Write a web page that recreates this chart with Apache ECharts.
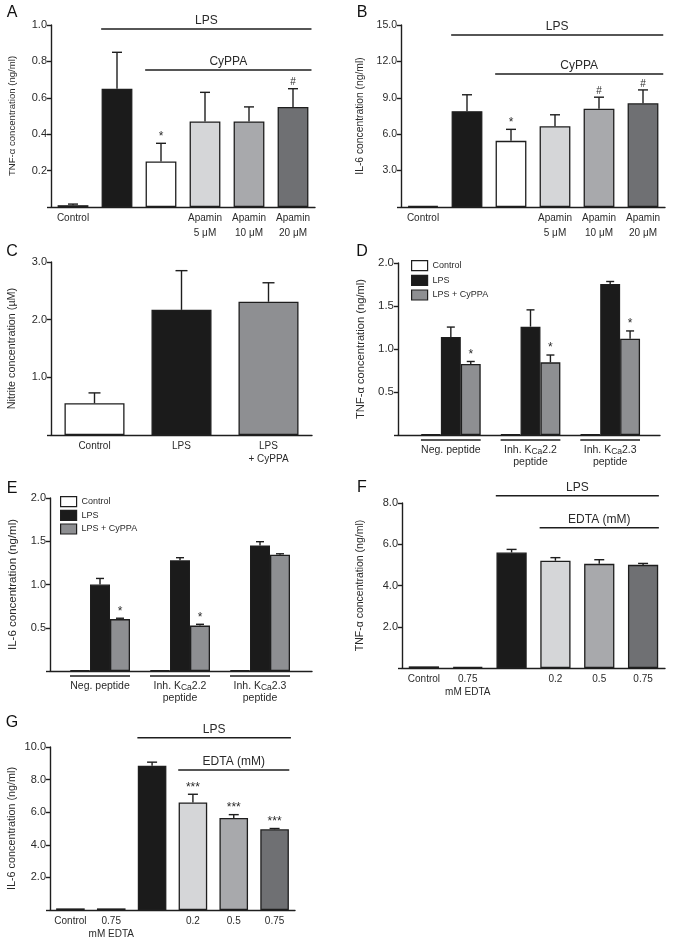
<!DOCTYPE html>
<html><head><meta charset="utf-8">
<script src="https://cdn.jsdelivr.net/npm/echarts@6/dist/echarts.min.js"></script>
<style>html,body{margin:0;padding:0;background:#fff}#c{width:675px;height:941px}</style>
</head><body><div id="c"></div><script>
// ---------------- DATA ----------------
// Panel A: TNF-α (ng/ml)
const aCategories = ['Control', '', '', 'Apamin\n5 μM', 'Apamin\n10 μM', 'Apamin\n20 μM'];
const aValues = [0.01, 0.65, 0.25, 0.47, 0.47, 0.55];
const aSem = [0.006, 0.20, 0.10, 0.16, 0.08, 0.10];
const aMarks = ['', '', '*', '', '', '#'];
const aTicks = [0.2, 0.4, 0.6, 0.8, 1.0];
// Panel B: IL-6 (ng/ml)
const bCategories = ['Control', '', '', 'Apamin\n5 μM', 'Apamin\n10 μM', 'Apamin\n20 μM'];
const bValues = [0.08, 7.9, 5.45, 6.65, 8.1, 8.55];
const bSem = [0.03, 1.35, 0.95, 0.95, 0.95, 1.1];
const bMarks = ['', '', '*', '', '#', '#'];
const bTicks = [3, 6, 9, 12, 15];
// Panel C: Nitrite (µM)
const cCategories = ['Control', 'LPS', 'LPS\n+ CyPPA'];
const cValues = [0.55, 2.17, 2.31];
const cSem = [0.18, 0.68, 0.33];
const cTicks = [1, 2, 3];
// Panels D, E: grouped by peptide
const peptideGroups = ['Neg. peptide', 'Inh. KCa2.2\npeptide', 'Inh. KCa2.3\npeptide'];
const groupSeriesNames = ['Control', 'LPS', 'LPS + CyPPA'];
const dControl = [0.006, 0.006, 0.006];
const dLps = [1.14, 1.26, 1.755];
const dLpsSem = [0.115, 0.195, 0.03];
const dCyppa = [0.825, 0.845, 1.12];
const dCyppaSem = [0.03, 0.085, 0.09];
const dCyppaMarks = ['*', '*', '*'];
const dTicks = [0.5, 1.0, 1.5, 2.0];
const eControl = [0.006, 0.006, 0.006];
const eLps = [1.0, 1.28, 1.45];
const eLpsSem = [0.07, 0.03, 0.045];
const eCyppa = [0.6, 0.525, 1.345];
const eCyppaSem = [0.01, 0.015, 0.01];
const eCyppaMarks = ['*', '*', ''];
const eTicks = [0.5, 1.0, 1.5, 2.0];
// Panels F, G: EDTA
const edtaCategories = ['Control', '0.75\nmM EDTA', '', '0.2', '0.5', '0.75'];
const fValues = [0.08, 0.05, 5.6, 5.2, 5.05, 5.0];
const fSem = [0, 0, 0.15, 0.15, 0.2, 0.07];
const fTicks = [2, 4, 6, 8];
const gValues = [0.1, 0.1, 8.85, 6.6, 5.65, 4.95];
const gSem = [0, 0, 0.22, 0.5, 0.2, 0.05];
const gMarks = ['', '', '', '***', '***', '***'];
const gTicks = [2, 4, 6, 8, 10];

// ---------------- STYLE ----------------
const FONT = '"Liberation Sans", Arial, Helvetica, sans-serif';
const INK = '#1e1e1e';
const TXT = '#2a2a2a';
const C_WHITE = '#ffffff', C_BLACK = '#1b1b1b', C_LIGHT = '#d5d6d8', C_MID = '#a8a9ac', C_DARK = '#6f7073', C_CY = '#8e8f92';
const apaminFills = [C_WHITE, C_BLACK, C_WHITE, C_LIGHT, C_MID, C_DARK];
const edtaFills = [C_WHITE, C_WHITE, C_BLACK, C_LIGHT, C_MID, C_DARK];
const nitriteFills = [C_WHITE, C_BLACK, C_CY];
const groupFills = [C_WHITE, C_BLACK, C_CY];

const grids = [
  {left: 51, top: 25, width: 264, height: 182},   // 0 A
  {left: 401, top: 25, width: 264, height: 182},  // 1 B
  {left: 51, top: 262, width: 261, height: 173},  // 2 C
  {left: 398, top: 263, width: 262, height: 172}, // 3 D axis
  {left: 411, top: 263, width: 239, height: 172}, // 4 D bars
  {left: 50, top: 498, width: 262, height: 173},  // 5 E axis
  {left: 60, top: 498, width: 240, height: 173},  // 6 E bars
  {left: 402, top: 503, width: 263, height: 165}, // 7 F
  {left: 50, top: 747, width: 245, height: 165}   // 8 G
];

function yAx(gi, ticks, name, gap, nameSize, labelSize, show) {
  const step = ticks[1] - ticks[0];
  return {type: 'value', gridIndex: gi, min: 0, max: ticks[ticks.length - 1], interval: step,
    show: show !== false,
    name: name, nameLocation: 'middle', nameGap: gap,
    nameTextStyle: {fontSize: nameSize, color: TXT, fontFamily: FONT},
    axisLine: {show: true, lineStyle: {color: INK, width: 1.4}},
    axisTick: {show: true, length: 4, lineStyle: {color: INK, width: 1.4}},
    axisLabel: {fontSize: labelSize, color: TXT, margin: 4, fontFamily: FONT,
      formatter: v => (v === 0 ? '' : v.toFixed(1))},
    splitLine: {show: false}};
}
function xAx(gi, cats, extra) {
  return Object.assign({type: 'category', gridIndex: gi, data: cats,
    axisLine: {show: true, lineStyle: {color: INK, width: 1.4}},
    axisTick: {show: false},
    axisLabel: {interval: 0, fontSize: 10, color: TXT, margin: 5, lineHeight: 13, fontFamily: FONT}}, extra || {});
}
function barSeries(name, gi, vals, fills, gap, extra) {
  return Object.assign({type: 'bar', name: name, xAxisIndex: gi, yAxisIndex: gi,
    data: vals.map((v, i) => ({value: v, itemStyle: {color: Array.isArray(fills) ? fills[i] : fills}})),
    barCategoryGap: gap, barGap: '0%',
    itemStyle: {color: Array.isArray(fills) ? fills[0] : fills, borderColor: INK, borderWidth: 1.3},
    z: 2, silent: true, animation: false}, extra || {});
}
function errorSeries(gi, vals, sems, marks, nSeries, k, catGap, capHalf) {
  return {type: 'custom', xAxisIndex: gi, yAxisIndex: gi, clip: false, z: 5, silent: true, animation: false,
    encode: {x: 0, y: [1, 2]},
    data: vals.map((v, i) => [i, v, v + sems[i]]),
    renderItem(params, api) {
      const i = params.dataIndex;
      const bw = api.size([1, 0])[0];
      const barW = bw * (1 - catGap) / nSeries;
      const off = (k - (nSeries - 1) / 2) * barW;
      const p0 = api.coord([api.value(0), api.value(1)]);
      const p1 = api.coord([api.value(0), api.value(2)]);
      const x = p0[0] + off;
      const ch = [];
      if (p0[1] - p1[1] > 0.6) {
        ch.push({type: 'line', shape: {x1: x, y1: p0[1], x2: x, y2: p1[1]}, style: {stroke: INK, lineWidth: 1.4}});
        ch.push({type: 'line', shape: {x1: x - capHalf, y1: p1[1], x2: x + capHalf, y2: p1[1]}, style: {stroke: INK, lineWidth: 1.4}});
      }
      const m = marks ? marks[i] : '';
      if (m) ch.push({type: 'text', x: x, y: p1[1] - 1, style: {text: m, fill: TXT, fontSize: m === '#' ? 10 : 12,
        fontFamily: FONT, align: 'center', verticalAlign: 'bottom'}});
      return {type: 'group', children: ch};
    }};
}
function bracketSeries(gi, items) {
  return {type: 'custom', xAxisIndex: gi, yAxisIndex: gi, clip: false, z: 5, silent: true, animation: false,
    encode: {x: [0, 1], y: 2},
    data: items.map(it => [it[0], it[1], it[2]]),
    renderItem(params, api) {
      const it = items[params.dataIndex];
      const bw = api.size([1, 0])[0];
      const a = api.coord([it[0], it[2]]), b = api.coord([it[1], it[2]]);
      const x1 = a[0] - bw * it[4], x2 = b[0] + bw * it[5];
      return {type: 'group', children: [
        {type: 'line', shape: {x1: x1, y1: a[1], x2: x2, y2: a[1]}, style: {stroke: INK, lineWidth: 1.5}},
        {type: 'text', x: (x1 + x2) / 2, y: a[1] - 8, style: {text: it[3], fontSize: 12, fill: TXT, fontFamily: FONT,
          align: 'center', verticalAlign: 'middle'}}
      ]};
    }};
}
function underlineSeries(gi, n, frac) {
  return {type: 'custom', xAxisIndex: gi, yAxisIndex: gi, clip: false, z: 5, silent: true, animation: false,
    encode: {x: 0, y: 1},
    data: Array.from({length: n}, (_, i) => [i, 0]),
    renderItem(params, api) {
      const bw = api.size([1, 0])[0];
      const p = api.coord([api.value(0), 0]);
      return {type: 'line', shape: {x1: p[0] - bw * frac / 2, y1: p[1] + 5, x2: p[0] + bw * frac / 2, y2: p[1] + 5},
        style: {stroke: INK, lineWidth: 1.3}};
    }};
}
const peptideAxisLabel = {interval: 0, margin: 9, fontSize: 10.5, lineHeight: 12, color: TXT, fontFamily: FONT,
  formatter: v => v.replace('KCa', 'K{s|Ca}'),
  rich: {s: {fontSize: 8.5, lineHeight: 9, verticalAlign: 'bottom', color: TXT, fontFamily: FONT}}};

const TNF = 'TNF-α concentration (ng/ml)';
const IL6 = 'IL-6 concentration (ng/ml)';

const xAxes = [
  xAx(0, aCategories, {axisLabel: {interval: 0, fontSize: 10, color: TXT, margin: 4, lineHeight: 15, fontFamily: FONT}}),
  xAx(1, bCategories, {axisLabel: {interval: 0, fontSize: 10, color: TXT, margin: 4, lineHeight: 15, fontFamily: FONT}}),
  xAx(2, cCategories),
  xAx(3, [''], {axisLabel: {show: false}}),
  xAx(4, peptideGroups, {axisLine: {show: false}, axisLabel: peptideAxisLabel}),
  xAx(5, [''], {axisLabel: {show: false}}),
  xAx(6, peptideGroups, {axisLine: {show: false}, axisLabel: peptideAxisLabel}),
  xAx(7, edtaCategories),
  xAx(8, edtaCategories)
];
const yAxes = [
  yAx(0, aTicks, TNF, 34, 9.6, 11),
  yAx(1, bTicks, IL6, 36, 10.3, 10.5),
  yAx(2, cTicks, 'Nitrite concentration (µM)', 33, 10.8, 11),
  yAx(3, dTicks, TNF, 32, 11.2, 11.5),
  yAx(4, dTicks, '', 0, 10, 10, false),
  yAx(5, eTicks, IL6, 31, 11.5, 11),
  yAx(6, eTicks, '', 0, 10, 10, false),
  yAx(7, fTicks, TNF, 36, 10.5, 11),
  yAx(8, gTicks, IL6, 32, 10.8, 11)
];

const series = [
  // A
  barSeries('A', 0, aValues, apaminFills, '30%'),
  errorSeries(0, aValues, aSem, aMarks, 1, 0, 0.30, 5),
  bracketSeries(0, [[1, 5, 0.978, 'LPS', 0.36, 0.42], [2, 5, 0.753, 'CyPPA', 0.36, 0.42]]),
  // B
  barSeries('B', 1, bValues, apaminFills, '30%'),
  errorSeries(1, bValues, bSem, bMarks, 1, 0, 0.30, 5),
  bracketSeries(1, [[1, 5, 14.18, 'LPS', 0.36, 0.46], [2, 5, 10.96, 'CyPPA', 0.36, 0.46]]),
  // C
  barSeries('C', 2, cValues, nitriteFills, '31%'),
  errorSeries(2, cValues, cSem, null, 1, 0, 0.31, 6),
  // D
  barSeries(groupSeriesNames[0], 4, dControl, groupFills[0], '25%'),
  barSeries(groupSeriesNames[1], 4, dLps, groupFills[1], '25%'),
  barSeries(groupSeriesNames[2], 4, dCyppa, groupFills[2], '25%'),
  errorSeries(4, dLps, dLpsSem, null, 3, 1, 0.25, 4),
  errorSeries(4, dCyppa, dCyppaSem, dCyppaMarks, 3, 2, 0.25, 4),
  underlineSeries(4, peptideGroups.length, 0.75),
  // E
  barSeries(groupSeriesNames[0], 6, eControl, groupFills[0], '25%'),
  barSeries(groupSeriesNames[1], 6, eLps, groupFills[1], '25%'),
  barSeries(groupSeriesNames[2], 6, eCyppa, groupFills[2], '25%'),
  errorSeries(6, eLps, eLpsSem, null, 3, 1, 0.25, 4),
  errorSeries(6, eCyppa, eCyppaSem, eCyppaMarks, 3, 2, 0.25, 4),
  underlineSeries(6, peptideGroups.length, 0.75),
  // F
  barSeries('F', 7, fValues, edtaFills, '31%'),
  errorSeries(7, fValues, fSem, null, 1, 0, 0.31, 5),
  bracketSeries(7, [[2, 5, 8.35, 'LPS', 0.36, 0.36], [3, 5, 6.8, 'EDTA (mM)', 0.36, 0.36]]),
  // G
  barSeries('G', 8, gValues, edtaFills, '30%'),
  errorSeries(8, gValues, gSem, gMarks, 1, 0, 0.30, 5),
  bracketSeries(8, [[2, 5, 10.57, 'LPS', 0.36, 0.4], [3, 5, 8.59, 'EDTA (mM)', 0.36, 0.36]])
];

const legendBase = {data: groupSeriesNames, orient: 'vertical', itemWidth: 16, itemHeight: 10, icon: 'rect',
  padding: 0, selectedMode: false, textStyle: {fontSize: 9, color: TXT, fontFamily: FONT},
  itemStyle: {borderColor: INK, borderWidth: 1.2}};

const letters = [['A', 12, 13], ['B', 362, 13], ['C', 12, 252], ['D', 362, 252], ['E', 12, 489], ['F', 362, 488], ['G', 12, 723]];

const chart = echarts.init(document.getElementById('c'), null, {renderer: 'canvas'});
chart.setOption({
  animation: false,
  backgroundColor: '#ffffff',
  textStyle: {fontFamily: FONT},
  grid: grids,
  xAxis: xAxes,
  yAxis: yAxes,
  legend: [
    Object.assign({}, legendBase, {left: 411, top: 260, itemGap: 3.5}),
    Object.assign({}, legendBase, {left: 60, top: 496, itemGap: 2.5})
  ],
  series: series,
  graphic: letters.map(([t, x, y]) => ({type: 'text', x: x, y: y,
    style: {text: t, fontSize: 16, fill: '#111', fontFamily: FONT, align: 'center', verticalAlign: 'middle'}}))
});
</script></body></html>
